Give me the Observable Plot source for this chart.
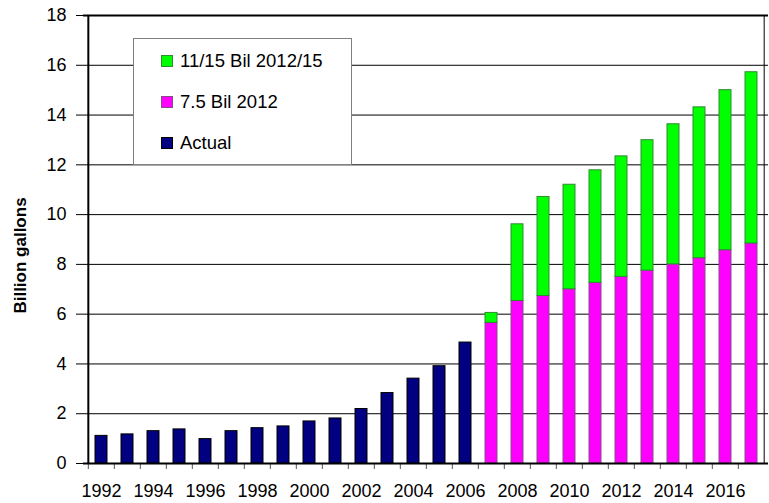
<!DOCTYPE html>
<html>
<head>
<meta charset="utf-8">
<script src="https://cdn.jsdelivr.net/npm/d3@7"></script>
<script src="https://cdn.jsdelivr.net/npm/@observablehq/plot@0.6"></script>
<style>
  html, body { margin: 0; padding: 0; background: #fff; }
  #wrap { position: relative; width: 769px; height: 503px; font-family: "Liberation Sans", Arial, sans-serif; }
  #legend { position: absolute; left: 133px; top: 38px; width: 219px; height: 127px; background: #fff; border: 1px solid #808080; box-sizing: border-box; font-size: 18.5px; color: #000; }
  .item { position: absolute; left: 27px; height: 20px; line-height: 20px; white-space: nowrap; }
  .sw { display: inline-block; width: 10px; height: 10px; margin-right: 7px; vertical-align: 0px; }
</style>
</head>
<body>
<div id="wrap"></div>
<script>
const years = [1992,1993,1994,1995,1996,1997,1998,1999,2000,2001,2002,2003,2004,2005,2006,2007,2008,2009,2010,2011,2012,2013,2014,2015,2016,2017];
const actualYears = [1992,1993,1994,1995,1996,1997,1998,1999,2000,2001,2002,2003,2004,2005,2006];
const actual = [1.11,1.17,1.30,1.37,0.98,1.30,1.42,1.49,1.69,1.81,2.19,2.83,3.41,3.91,4.86];
const projYears = [2007,2008,2009,2010,2011,2012,2013,2014,2015,2016,2017];
const rfs75 = [5.65,6.53,6.73,7.00,7.26,7.50,7.75,8.00,8.25,8.57,8.84];
const rfsTotal = [6.05,9.61,10.71,11.20,11.78,12.34,12.99,13.63,14.31,15.00,15.72];
const yTicks = [0,2,4,6,8,10,12,14,16,18];
const legendLabels = ["11/15 Bil 2012/15", "7.5 Bil 2012", "Actual"];
const colors = ["#00FF00", "#FF00FF", "#000080"];

const actualData = actualYears.map((y, i) => ({year: y, v: actual[i]}));
const projData = projYears.map((y, i) => ({year: y, base: rfs75[i], total: rfsTotal[i]}));

const W = 769, H = 503, ML = 83, MR = 1, MT = 15, MB = 40;
const step = (W - ML - MR) / years.length;

const chart = Plot.plot({
  width: W, height: H,
  marginLeft: ML, marginRight: MR, marginTop: MT, marginBottom: MB,
  style: {fontFamily: "'Liberation Sans', Arial, sans-serif", fontSize: "18px", color: "#000", background: "#fff"},
  x: {type: "band", domain: years, paddingInner: 0.54, paddingOuter: 0.27, axis: null},
  y: {domain: [0, 18], axis: null},
  marks: [
    Plot.gridY(yTicks.filter(t => t > 0 && t < 18), {stroke: "#000", strokeOpacity: 1, strokeWidth: 1}),
    Plot.barY(actualData, {x: "year", y: "v", fill: colors[2], stroke: "#000", strokeWidth: 1}),
    Plot.barY(projData, {x: "year", y1: 0, y2: "base", fill: colors[1], stroke: "#8a4a8a", strokeWidth: 1}),
    Plot.barY(projData, {x: "year", y1: "base", y2: "total", fill: colors[0], stroke: "#2e8b2e", strokeWidth: 1}),
    Plot.axisY({ticks: yTicks, tickSize: 7, tickPadding: 10, fontSize: 18, label: null, stroke: "#000"}),
    Plot.axisX({tickSize: 6, tickFormat: () => "", dx: -step / 2, label: null, stroke: "#555"}),
    Plot.axisX({tickSize: 0, tickPadding: 21, fontSize: 18, label: null, tickFormat: d => d % 2 === 0 ? String(d) : ""}),
    Plot.ruleY([0], {stroke: "#000", strokeWidth: 2}),
    Plot.ruleY([18], {stroke: "#000", strokeWidth: 2}),
    Plot.ruleX([0], {x: () => years[0], dx: -step / 2, stroke: "#000", strokeWidth: 2}),
    Plot.ruleX([0], {x: () => years[years.length - 1], dx: step / 2 - 0.5, stroke: "#000", strokeWidth: 1}),
    Plot.text(["Billion gallons"], {frameAnchor: "left", textAnchor: "middle", rotate: -90, dx: -63, dy: 16, fontWeight: "bold", fontSize: 17, fill: "#000"})
  ]
});

const wrap = document.getElementById("wrap");
wrap.appendChild(chart);
const legend = document.createElement("div");
legend.id = "legend";
const tops = [12, 53, 94];
legendLabels.forEach((lab, i) => {
  const it = document.createElement("div");
  it.className = "item";
  it.style.top = tops[i] + "px";
  const sw = document.createElement("span");
  sw.className = "sw";
  sw.style.background = colors[i];
  sw.style.border = "1px solid " + (i === 0 ? "#2e8b2e" : i === 1 ? "#8a4a8a" : "#000");
  it.appendChild(sw);
  it.appendChild(document.createTextNode(lab));
  legend.appendChild(it);
});
wrap.appendChild(legend);
</script>
</body>
</html>
